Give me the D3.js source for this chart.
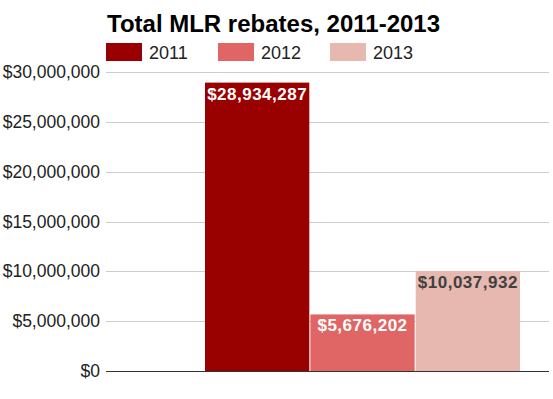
<!DOCTYPE html>
<html>
<head>
<meta charset="utf-8">
<script src="https://cdn.jsdelivr.net/npm/d3@7"></script>
<style>
  html, body { margin: 0; padding: 0; background: #fff; }
  svg { display: block; font-family: "Liberation Sans", Arial, sans-serif; }
</style>
</head>
<body>
<svg id="chart" width="553" height="399"></svg>
<script>
const title = "Total MLR rebates, 2011-2013";
const seriesNames = ["2011", "2012", "2013"];
const seriesValues = [28934287, 5676202, 10037932];
const seriesColors = ["#990000", "#e06666", "#e6b8af"];
const labelColors = ["#ffffff", "#ffffff", "#404040"];
const yTicks = [0, 5000000, 10000000, 15000000, 20000000, 25000000, 30000000];

const W = 553, H = 399;
const plot = { left: 106, right: 549, top: 72, bottom: 371 };

const svg = d3.select("#chart");

const y = d3.scaleLinear().domain([0, 30000000]).range([plot.bottom, plot.top]);
const x = d3.scaleBand().domain(seriesNames).range([205, 520]).paddingInner(0.01).paddingOuter(0);

const fmt = v => "$" + d3.format(",")(v);

// gridlines
svg.append("g").selectAll("line").data(yTicks.filter(t => t !== 0)).join("line")
  .attr("x1", plot.left).attr("x2", plot.right)
  .attr("y1", d => Math.round(y(d)) + 0.5).attr("y2", d => Math.round(y(d)) + 0.5)
  .attr("stroke", "#cccccc").attr("stroke-width", 1);

// y axis labels
const yAxis = d3.axisLeft(y).tickValues(yTicks).tickFormat(fmt).tickSize(0).tickPadding(6);
const ga = svg.append("g").attr("transform", `translate(${plot.left},0)`).call(yAxis);
ga.select(".domain").remove();
ga.selectAll("text").attr("font-size", 17.5).attr("fill", "#222222")
  .attr("font-family", "'Liberation Sans', Arial, sans-serif");

// bars
svg.append("g").selectAll("rect").data(seriesNames).join("rect")
  .attr("x", d => x(d))
  .attr("width", x.bandwidth())
  .attr("y", (d, i) => y(seriesValues[i]))
  .attr("height", (d, i) => y(0) - y(seriesValues[i]))
  .attr("fill", (d, i) => seriesColors[i]);

// bar labels
svg.append("g").selectAll("text").data(seriesNames).join("text")
  .attr("x", d => x(d) + x.bandwidth() / 2)
  .attr("y", (d, i) => y(seriesValues[i]) + 17)
  .attr("text-anchor", "middle")
  .attr("font-size", 17).attr("font-weight", "bold")
  .attr("letter-spacing", 0.5)
  .attr("fill", (d, i) => labelColors[i])
  .text((d, i) => fmt(seriesValues[i]));

// baseline
svg.append("line")
  .attr("x1", plot.left).attr("x2", plot.right)
  .attr("y1", Math.round(y(0)) + 0.5).attr("y2", Math.round(y(0)) + 0.5)
  .attr("stroke", "#333333").attr("stroke-width", 1);

// title
svg.append("text").attr("x", 107).attr("y", 31.5)
  .attr("font-size", 24).attr("font-weight", "bold").attr("fill", "#000")
  .text(title);

// legend
const lg = svg.append("g").selectAll("g").data(seriesNames).join("g")
  .attr("transform", (d, i) => `translate(${106 + i * 112},43)`);
lg.append("rect").attr("width", 36).attr("height", 18).attr("fill", (d, i) => seriesColors[i]);
lg.append("text").attr("x", 43).attr("y", 15.5).attr("font-size", 18).attr("fill", "#222222").text(d => d);
</script>
</body>
</html>
